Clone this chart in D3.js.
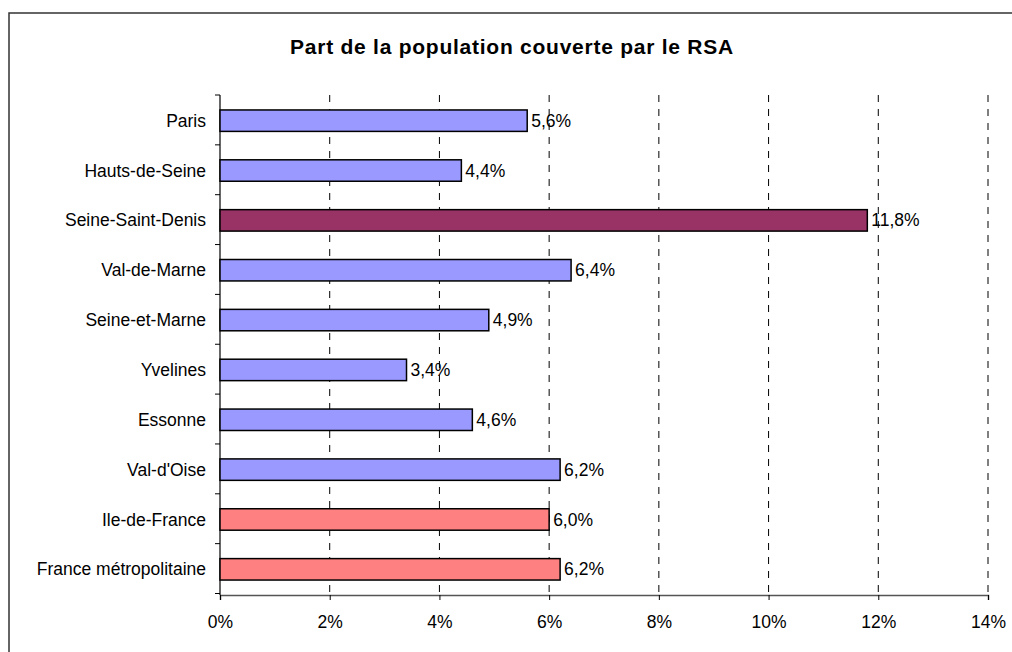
<!DOCTYPE html>
<html>
<head>
<meta charset="utf-8">
<script src="https://cdn.jsdelivr.net/npm/d3@7"></script>
<style>
  body { margin: 0; background: #fff; }
  svg { display: block; font-family: Arial, "Liberation Sans", sans-serif; }
</style>
</head>
<body>
<div id="rsa-chart"></div>
<script>
// share of the population covered by the RSA, by département
var territoires = ["Paris", "Hauts-de-Seine", "Seine-Saint-Denis", "Val-de-Marne", "Seine-et-Marne",
                   "Yvelines", "Essonne", "Val-d'Oise", "Ile-de-France", "France métropolitaine"];
var parts = [5.6, 4.4, 11.8, 6.4, 4.9, 3.4, 4.6, 6.2, 6.0, 6.2];
var groupes = ["dep", "dep", "ssd", "dep", "dep", "dep", "dep", "dep", "ref", "ref"];
var xTicks = [0, 2, 4, 6, 8, 10, 12, 14];

var couleurs = {dep: "#9999FF", ssd: "#993366", ref: "#FF8080"};

var W = 1012, H = 652;
var margin = {top: 95, right: 24, bottom: 57, left: 220},
    width = W - margin.left - margin.right,
    height = H - margin.top - margin.bottom;

var data = territoires.map(function(t, i) {
    return {name: t, value: parts[i], groupe: groupes[i]};
});

var svg = d3.select("#rsa-chart")
    .append("svg")
    .attr("width", W)
    .attr("height", H);

// outer frame of the chart area
svg.append("rect")
    .attr("x", 9)
    .attr("y", 13)
    .attr("width", W + 20)
    .attr("height", H + 20)
    .style("fill", "none")
    .style("stroke", "#333")
    .style("stroke-width", 1.5);

svg.append("text")
    .attr("x", 512)
    .attr("y", 54)
    .attr("text-anchor", "middle")
    .style("font-size", "21px")
    .style("font-weight", "bold")
    .style("letter-spacing", "0.75px")
    .text("Part de la population couverte par le RSA");

var g = svg.append("g")
    .attr("transform", "translate(" + margin.left + "," + margin.top + ")");

var x = d3.scaleLinear()
    .domain([0, 14])
    .range([0, width]);

var y = d3.scaleBand()
    .domain(territoires)
    .range([0, height])
    .paddingInner(0.57)
    .paddingOuter(0.3);

// dashed gridlines
g.selectAll(".grid")
    .data(xTicks.slice(1))
    .enter()
    .append("line")
    .attr("x1", function(d) { return x(d); })
    .attr("x2", function(d) { return x(d); })
    .attr("y1", 0)
    .attr("y2", height)
    .style("stroke", "#000")
    .style("stroke-width", 1)
    .style("stroke-dasharray", "7,7");

// x axis
var xAxis = g.append("g")
    .attr("transform", "translate(0," + height + ")")
    .call(d3.axisBottom(x)
        .tickValues(xTicks)
        .tickSize(5)
        .tickFormat(function(d) { return d + "%"; }));
xAxis.select(".domain").style("stroke", "#555").style("stroke-width", 1.5);
xAxis.selectAll(".tick line").style("stroke", "#000");
xAxis.selectAll("text")
    .attr("y", 21)
    .style("font-size", "17.5px")
    .style("fill", "#000");

// y axis with ticks between categories
var yAxisLine = g.append("g");
yAxisLine.append("line")
    .attr("x1", 0).attr("x2", 0)
    .attr("y1", 0).attr("y2", height)
    .style("stroke", "#000")
    .style("stroke-width", 1.2);
yAxisLine.selectAll(".ytick")
    .data(d3.range(territoires.length + 1))
    .enter()
    .append("line")
    .attr("x1", -5).attr("x2", 0)
    .attr("y1", function(i) { return i * y.step(); })
    .attr("y2", function(i) { return i * y.step(); })
    .style("stroke", "#000")
    .style("stroke-width", 1);

g.selectAll(".ylabel")
    .data(data)
    .enter()
    .append("text")
    .attr("x", -14)
    .attr("y", function(d) { return y(d.name) + y.bandwidth() / 2; })
    .attr("dy", "0.35em")
    .attr("text-anchor", "end")
    .style("font-size", "17.5px")
    .text(function(d) { return d.name; });

// bars
g.selectAll(".bar")
    .data(data)
    .enter()
    .append("rect")
    .attr("x", x(0))
    .attr("y", function(d) { return y(d.name); })
    .attr("width", function(d) { return x(d.value) - x(0); })
    .attr("height", y.bandwidth())
    .style("fill", function(d) { return couleurs[d.groupe]; })
    .style("stroke", "#000")
    .style("stroke-width", 1.5);

// value labels
g.selectAll(".val")
    .data(data)
    .enter()
    .append("text")
    .attr("x", function(d) { return x(d.value) + 4; })
    .attr("y", function(d) { return y(d.name) + y.bandwidth() / 2; })
    .attr("dy", "0.35em")
    .style("font-size", "17.5px")
    .text(function(d) { return d3.format(".1f")(d.value).replace(".", ",") + "%"; });
</script>
</body>
</html>
